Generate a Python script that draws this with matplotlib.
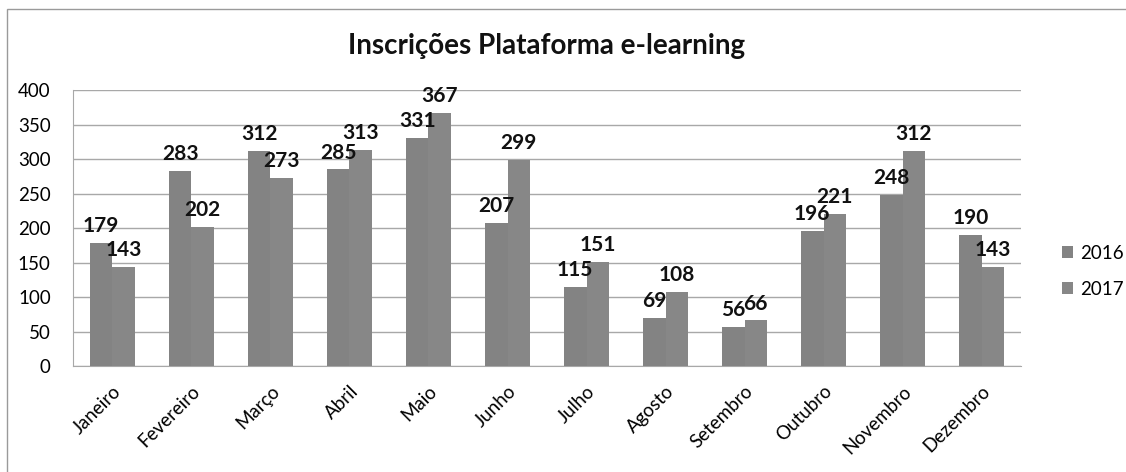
import numpy as np
import matplotlib.pyplot as plt
from matplotlib.patches import Rectangle

# ── data ──────────────────────────────────────────────────────────────────────
months = ["Janeiro", "Fevereiro", "Março", "Abril", "Maio", "Junho",
          "Julho", "Agosto", "Setembro", "Outubro", "Novembro", "Dezembro"]
v2016 = [179, 283, 312, 285, 331, 207, 115, 69, 56, 196, 248, 190]
v2017 = [143, 202, 273, 313, 367, 299, 151, 108, 66, 221, 312, 143]
series = ["2016", "2017"]

plt.rcParams['font.family'] = ['Lato', 'DejaVu Sans']

fig = plt.figure(figsize=(11.26, 4.72), dpi=100)
ax = fig.add_axes([0.0648, 0.2246, 0.842, 0.5844])

# outer chart border (only left/top visible in the reference)
fig.patches.append(Rectangle((7 / 1126, -0.1), 1.2, (472 - 9) / 472 + 0.1,
                             transform=fig.transFigure, fill=False,
                             edgecolor="#9a9a9a", linewidth=1.0))

x = np.arange(len(months))
w = 0.286
b1 = ax.bar(x - w / 2, v2016, w, color="#838383", label=series[0], zorder=3)
b2 = ax.bar(x + w / 2, v2017, w, color="#878787", label=series[1], zorder=3)

for bars in (b1, b2):
    for r in bars:
        ax.annotate(f"{int(r.get_height())}",
                    (r.get_x() + r.get_width() / 2, r.get_height()),
                    xytext=(0, 5), textcoords="offset points",
                    ha="center", va="bottom", fontsize=15,
                    fontweight="bold", color="#111111")

ax.set_ylim(0, 400)
ax.set_yticks(np.arange(0, 401, 50))
ax.set_xlim(-0.5, len(months) - 0.5)
ax.set_xticks(x)
ax.set_xticklabels(months, rotation=45, ha="right", rotation_mode="anchor",
                   fontsize=13.5)
ax.tick_params(axis="y", labelsize=13.5, length=0, pad=16)
ax.tick_params(axis="x", length=0, pad=12)
ax.grid(axis="y", color="#a8a8a8", linewidth=1.0, zorder=0)
ax.set_axisbelow(True)
for s in ("top", "right"):
    ax.spines[s].set_visible(False)
ax.spines["left"].set_color("#a8a8a8")
ax.spines["bottom"].set_color("#a8a8a8")

ax.set_title("Inscrições Plataforma e-learning", fontsize=20, fontweight="bold",
             pad=26, color="#111111")

fig.legend(handles=[b1, b2], labels=series, loc="center left",
           bbox_to_anchor=(0.928, 0.425), frameon=False, fontsize=13.5,
           handlelength=0.6, handleheight=0.6, handletextpad=0.35,
           labelspacing=1.0)

fig.savefig("out.png", dpi=100, facecolor="white")
